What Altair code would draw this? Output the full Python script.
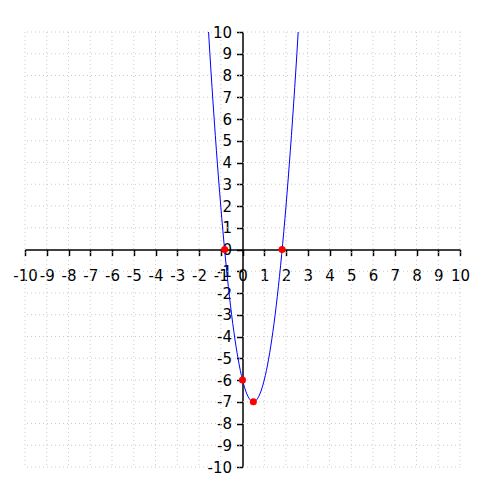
import altair as alt
import pandas as pd

ticks = list(range(-10, 11))

curve_x = [-1.56, -1.5, -1.4, -1.3, -1.2, -1.1, -1.0, -0.9, -0.8, -0.7, -0.6, -0.5, -0.4, -0.3,
           -0.2, -0.1, 0.0, 0.1, 0.2, 0.3, 0.4, 0.5, 0.6, 0.7, 0.8, 0.9, 1.0, 1.1, 1.2, 1.3,
           1.4, 1.5, 1.6, 1.7, 1.8, 1.9, 2.0, 2.1, 2.2, 2.3, 2.4, 2.5, 2.56]
curve_y = [10.0, 9.0, 7.44, 5.96, 4.56, 3.24, 2.0, 0.84, -0.24, -1.24, -2.16, -3.0, -3.76, -4.44,
           -5.04, -5.56, -6.0, -6.36, -6.64, -6.84, -6.96, -7.0, -6.96, -6.84, -6.64, -6.36, -6.0, -5.56, -5.04, -4.44,
           -3.76, -3.0, -2.16, -1.24, -0.24, 0.84, 2.0, 3.24, 4.56, 5.96, 7.44, 9.0, 10.0]

point_x = [-0.82, 1.82, 0.0, 0.5]
point_y = [0.0, 0.0, -6.0, -7.0]

grid_df = pd.DataFrame({"t": ticks})
curve_df = pd.DataFrame({"x": curve_x, "y": curve_y})
pts_df = pd.DataFrame({"x": point_x, "y": point_y})

xscale = alt.Scale(domain=[-10, 10], nice=False, zero=False)
yscale = alt.Scale(domain=[-10, 10], nice=False, zero=False)

FONT = "DejaVu Sans"
LABEL = "replace(format(datum.value, 'd'), '\u2212', '-')"

xaxis = alt.Axis(
    orient="bottom", offset=-217.5, values=ticks, tickSize=6, tickWidth=1.5,
    domainWidth=1.5, domainColor="black", tickColor="black", labelColor="black",
    labelFont=FONT, labelFontSize=15, labelPadding=13, labelFlush=False,
    labelOverlap=False, grid=False, title=None, labelExpr=LABEL,
)
yaxis = alt.Axis(
    orient="left", offset=-217.5, values=ticks, tickSize=6, tickWidth=1.5,
    domainWidth=1.5, domainColor="black", tickColor="black", labelColor="black",
    labelFont=FONT, labelFontSize=15, labelPadding=5, labelFlush=False,
    labelOverlap=False, grid=False, title=None, labelExpr=LABEL,
)

vgrid = alt.Chart(grid_df).mark_rule(color="#cccccc", strokeDash=[1, 3], strokeWidth=1).encode(
    x=alt.X("t:Q", scale=xscale, axis=xaxis)
).transform_filter("datum.t != 0")
hgrid = alt.Chart(grid_df).mark_rule(color="#cccccc", strokeDash=[1, 3], strokeWidth=1).encode(
    y=alt.Y("t:Q", scale=yscale, axis=yaxis)
).transform_filter("datum.t != 0")

line = alt.Chart(curve_df).mark_line(color="blue", strokeWidth=1, clip=True, interpolate="monotone").encode(
    x=alt.X("x:Q", scale=xscale, axis=xaxis),
    y=alt.Y("y:Q", scale=yscale, axis=yaxis),
    order=alt.Order("x:Q"),
)

points = alt.Chart(pts_df).mark_circle(color="red", size=50, opacity=1).encode(
    x=alt.X("x:Q", scale=xscale, axis=xaxis),
    y=alt.Y("y:Q", scale=yscale, axis=yaxis),
)

chart = alt.layer(vgrid, hgrid, line, points).properties(
    width=435, height=435,
    autosize=alt.AutoSizeParams(type="none"),
    padding={"left": 17, "top": 24, "right": 30, "bottom": 20},
).configure_view(stroke=None)

chart.save("out.html", embed_options={"renderer": "svg", "actions": False})
